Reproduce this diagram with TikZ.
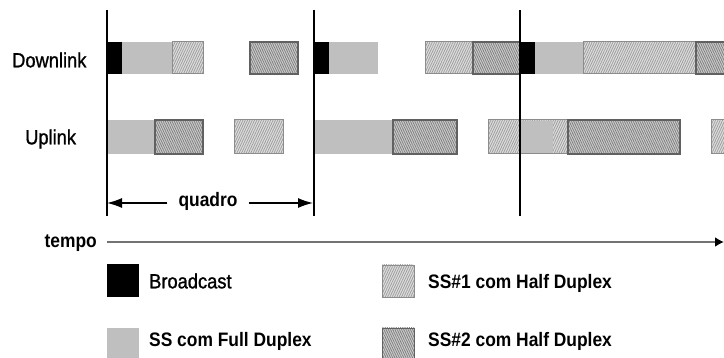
\documentclass[tikz,border=0pt]{standalone}
\usepackage{fontspec}
\usepackage{graphicx}
\setmainfont{Liberation Sans}
\newfontfamily\medfont[FakeBold=1.2]{Liberation Sans}
\usetikzlibrary{patterns.meta,arrows.meta}

% text in this chart is set slightly taller than its natural shape
\newcommand\tallbox[1]{\scalebox{1}[1.12]{#1}}

\tikzset{
  bcast/.style={fill=black},
  fullduplex/.style={fill=black!25},
  halfa/.style={preaction={fill=black!13},
    pattern={Lines[angle=65,distance=2.1pt,line width=0.8pt]},
    pattern color=black!38, draw=black!45, line width=1pt},
  halfb/.style={preaction={fill=black!20},
    pattern={Lines[angle=115,distance=2pt,line width=0.8pt]},
    pattern color=black!50, draw=black!62, line width=1.4pt},
  frameline/.style={line width=2pt, black},
  rowlabel/.style={font=\medfont\fontsize{18.3}{20}\selectfont, inner sep=0pt, anchor=west},
  boldlabel/.style={font=\bfseries\fontsize{17.4}{19}\selectfont, inner sep=0pt},
}

\begin{document}
\begin{tikzpicture}[x=1pt,y=-1pt]
\useasboundingbox (0,0) rectangle (724,358);

% ---- downlink row (y 42..74)
\path[bcast]      (107,42) rectangle (122,74);
\path[fullduplex] (122,42) rectangle (172,74);
\path[halfa]      (172,42) rectangle (203,74);
\path[halfb]      (250,42) rectangle (298,74);

\path[bcast]      (314,42) rectangle (329,74);
\path[fullduplex] (329,42) rectangle (378,74);
\path[halfa]      (425,42) rectangle (473,74);
\path[halfb]      (473,42) rectangle (520,74);

\path[bcast]      (520,42) rectangle (535,74);
\path[fullduplex] (535,42) rectangle (583,74);
\path[halfa]      (583,42) rectangle (696,74);
\path[halfb]      (696,42) rectangle (730,74);

% ---- uplink row (y 120..154)
\path[fullduplex] (107,120) rectangle (155,154);
\path[halfb]      (155,120) rectangle (203,154);
\path[halfa]      (234,120) rectangle (283,154);

\path[fullduplex] (314,120) rectangle (393,154);
\path[halfb]      (393,120) rectangle (457,154);
\path[halfa]      (488,120) rectangle (568,154);
\path[fullduplex] (520,121) rectangle (553,153);
\path[halfb]      (568,120) rectangle (680,154);
\path[halfa]      (711,120) rectangle (730,154);

% ---- frame boundaries
\coordinate (f1t) at (107,10);  \coordinate (f1b) at (107,216);
\coordinate (f2t) at (314,10);  \coordinate (f2b) at (314,216);
\coordinate (f3t) at (520,10);  \coordinate (f3b) at (520,216);
\draw[frameline] (f1t) -- (f1b);
\draw[frameline] (f2t) -- (f2b);
\draw[frameline] (f3t) -- (f3b);

% ---- row labels
\node[rowlabel] (dl) at (12,60) {\tallbox{Downlink}};
\node[rowlabel] (ul) at (25,139) {\tallbox{Uplink}};

% ---- frame length
\coordinate (qL) at (107,203);
\coordinate (qR) at (313,203);
\node[boldlabel, inner xsep=11pt] (quadro) at (208,201) {\tallbox{quadro}};
\draw[line width=1.3pt, -{Latex[length=15pt,width=10pt]}] (quadro.west |- qL) -- (qL);
\draw[line width=1.3pt, -{Latex[length=15pt,width=10pt]}] (quadro.east |- qR) -- (qR);

% ---- time axis
\node[boldlabel, anchor=east] (tempo) at (97,243) {\tallbox{tempo}};
\coordinate (t0) at (107,242);
\coordinate (t1) at (724,242);
\draw[line width=2pt, black!55, -{Latex[length=9pt,width=10pt,color=black]}] (t0) -- (t1);

% ---- legend
\path[bcast]      (107,264) rectangle (139,297);
\node[rowlabel] (lbc) at (149,281) {\tallbox{Broadcast}};
\path[fullduplex] (107,328) rectangle (139,362);
\node[boldlabel, anchor=west] (lfd) at (149,341) {\tallbox{SS com Full Duplex}};
\path[halfa, line width=0.8pt] (382,265) rectangle (414,297);
\node[boldlabel, anchor=west] (lh1) at (428,283) {\tallbox{SS\#1 com Half Duplex}};
\path[halfb, line width=0.8pt] (382,328) rectangle (414,362);
\node[boldlabel, anchor=west] (lh2) at (428,341) {\tallbox{SS\#2 com Half Duplex}};
\end{tikzpicture}
\end{document}
